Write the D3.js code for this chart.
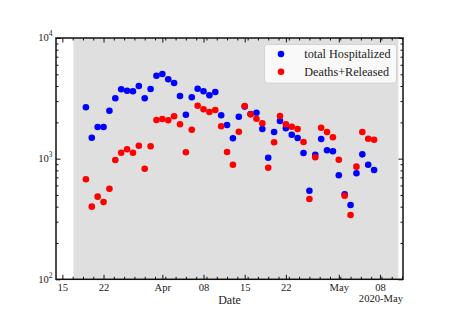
<!DOCTYPE html>
<html lang="en">
<head>
    <meta charset="UTF-8">
    <title>Hospitalized vs Deaths+Released</title>
    <script src="https://d3js.org/d3.v7.min.js"></script>
    <style>
        body { margin: 0; background: #fff; }
        text { font-family: "Liberation Serif", "DejaVu Serif", serif; fill: #222; }
    </style>
</head>
<body>
    <svg width="449" height="320"></svg>
    <script>
        // daily values, 2020-03-19 .. 2020-05-07
        const firstDay = new Date(Date.UTC(2020, 2, 19))
        const lastDay = new Date(Date.UTC(2020, 4, 8))
        const days = d3.utcDay.range(firstDay, lastDay)

        const hospitalized = [
            2665, 1492, 1829, 1829, 2497, 3164, 3756, 3658, 3616, 4001,
            3164, 3778, 4869, 5029, 4547, 4236, 3306, 2313, 3225, 3800,
            3616, 3350, 3568, 2287, 1901, 1475, 2227, 2700, 2340, 2404,
            1761, 1018, 1663, 2052, 1785, 1579, 1483, 1114, 542, 1078,
            1456, 1173, 1151, 728, 506, 413, 756, 1086, 891, 805
        ]
        const deathsReleased = [
            674, 400, 484, 437, 563, 974, 1120, 1195, 1120, 1280,
            825, 1266, 2091, 2131, 2079, 2244, 1926, 1129, 1738, 2748,
            2564, 2436, 2531, 1854, 1135, 891, 1673, 2732, 2331, 2143,
            1963, 841, 1366, 2257, 1926, 1840, 1761, 1374, 463, 1026,
            1805, 1663, 1503, 980, 493, 341, 858, 1663, 1464, 1436
        ]
        const seriesNames = ['total Hospitalized', 'Deaths+Released']
        const seriesColors = ['#0000ff', '#ff0000']

        const xTickDates = [
            new Date(Date.UTC(2020, 2, 15)), new Date(Date.UTC(2020, 2, 22)),
            new Date(Date.UTC(2020, 3, 1)), new Date(Date.UTC(2020, 3, 8)),
            new Date(Date.UTC(2020, 3, 15)), new Date(Date.UTC(2020, 3, 22)),
            new Date(Date.UTC(2020, 4, 1)), new Date(Date.UTC(2020, 4, 8))
        ]
        const xTickLabels = ['15', '22', 'Apr', '08', '15', '22', 'May', '08']
        const xOffsetLabel = '2020-May'
        const yTickValues = [100, 1000, 10000]
        const yTickExponents = ['2', '3', '4']

        // shaded period
        const spanStart = new Date(Date.UTC(2020, 2, 16, 21))
        const spanEnd = new Date(Date.UTC(2020, 4, 11, 3))

        const mLeft = 56, mRight = 403, mTop = 38, mBottom = 279.3

        const xScale = d3.scaleUtc()
                        .domain([new Date(Date.UTC(2020, 2, 13, 22)), new Date(Date.UTC(2020, 4, 11, 22))])
                        .range([mLeft, mRight])
        const yScale = d3.scaleLog()
                        .domain([100, 10000])
                        .range([mBottom, mTop])

        const svg = d3.select('svg')

        svg.append('rect')
            .attr('x', xScale(spanStart))
            .attr('y', mTop)
            .attr('width', xScale(spanEnd) - xScale(spanStart))
            .attr('height', mBottom - mTop)
            .attr('fill', '#dfdfdf')

        // minor ticks: AutoMinorLocator style, 1.75 day step from first major
        const minorStep = 1.75 * 864e5
        const minorDates = []
        const x0 = xScale.domain()[0].getTime(), x1 = xScale.domain()[1].getTime()
        for (let t = xTickDates[0].getTime() + Math.ceil((x0 - xTickDates[0].getTime()) / minorStep) * minorStep; t <= x1; t += minorStep) {
            if (!xTickDates.some(d => Math.abs(d.getTime() - t) < 1e6)) minorDates.push(new Date(t))
        }
        const yMinor = []
        ;[100, 1000].forEach(b => { for (let k = 2; k <= 9; k++) yMinor.push(b * k) })

        const bottomAxis = d3.axisBottom(xScale).tickValues(xTickDates).tickFormat((d, i) => xTickLabels[i]).tickSizeInner(-4.5).tickSizeOuter(0).tickPadding(4.5)
        const topAxis = d3.axisTop(xScale).tickValues(xTickDates).tickFormat('').tickSizeInner(-4.5).tickSizeOuter(0)
        const leftAxis = d3.axisLeft(yScale).tickValues(yTickValues).tickFormat('').tickSizeInner(-4.5).tickSizeOuter(0)
        const rightAxis = d3.axisRight(yScale).tickValues(yTickValues).tickFormat('').tickSizeInner(-4.5).tickSizeOuter(0)

        const gx = svg.append('g').attr('transform', `translate(0, ${mBottom})`).call(bottomAxis)
        svg.append('g').attr('transform', `translate(0, ${mTop})`).call(topAxis)
        svg.append('g').attr('transform', `translate(${mLeft}, 0)`).call(leftAxis)
        svg.append('g').attr('transform', `translate(${mRight}, 0)`).call(rightAxis)

        svg.append('g').attr('transform', `translate(0, ${mBottom})`)
            .call(d3.axisBottom(xScale).tickValues(minorDates).tickFormat('').tickSizeInner(-2.5).tickSizeOuter(0))
        svg.append('g').attr('transform', `translate(0, ${mTop})`)
            .call(d3.axisTop(xScale).tickValues(minorDates).tickFormat('').tickSizeInner(-2.5).tickSizeOuter(0))
        svg.append('g').attr('transform', `translate(${mLeft}, 0)`)
            .call(d3.axisLeft(yScale).tickValues(yMinor).tickFormat('').tickSizeInner(-2.5).tickSizeOuter(0))
        svg.append('g').attr('transform', `translate(${mRight}, 0)`)
            .call(d3.axisRight(yScale).tickValues(yMinor).tickFormat('').tickSizeInner(-2.5).tickSizeOuter(0))

        svg.selectAll('.domain').remove()
        svg.selectAll('.tick line').attr('stroke', '#111').attr('stroke-width', 1)
        gx.selectAll('text').attr('font-size', '10.6px').attr('font-family', '"Liberation Serif", serif').attr('fill', '#222')

        // y labels 10^n
        yTickValues.forEach((v, i) => {
            const t = svg.append('text')
                .attr('x', mLeft - 3.5)
                .attr('y', yScale(v) + 3.3)
                .attr('text-anchor', 'end')
                .attr('font-size', '10.6px')
            t.append('tspan').text('10')
            t.append('tspan').attr('dy', -5).attr('font-size', '7.5px').text(yTickExponents[i])
        })

        // points
        const series = [hospitalized, deathsReleased]
        series.forEach((vals, s) => {
            svg.append('g').selectAll('circle')
                .data(vals)
                .enter()
                .append('circle')
                .attr('cx', (d, i) => xScale(days[i]))
                .attr('cy', d => yScale(d))
                .attr('r', 3.3)
                .attr('fill', seriesColors[s])
        })

        // frame
        svg.append('rect')
            .attr('x', mLeft).attr('y', mTop)
            .attr('width', mRight - mLeft).attr('height', mBottom - mTop)
            .attr('fill', 'none').attr('stroke', '#111').attr('stroke-width', 1.5)

        // labels
        svg.append('text')
            .attr('x', (mLeft + mRight) / 2).attr('y', 304)
            .attr('text-anchor', 'middle').attr('font-size', '12px')
            .text('Date')
        svg.append('text')
            .attr('x', mRight).attr('y', 301.5)
            .attr('text-anchor', 'end').attr('font-size', '10.6px')
            .text(xOffsetLabel)

        // legend
        const legend = svg.append('g')
        legend.append('rect')
            .attr('x', 264.5).attr('y', 44.5).attr('width', 132).attr('height', 38.5)
            .attr('rx', 3)
            .attr('fill', '#f9f9f9')
            .attr('stroke', '#d4d4d4').attr('stroke-width', 1)
        seriesNames.forEach((name, i) => {
            legend.append('circle')
                .attr('cx', 281).attr('cy', 54 + i * 17.7)
                .attr('r', 3.3).attr('fill', seriesColors[i])
            legend.append('text')
                .attr('x', 304.3).attr('y', 57.8 + i * 17.7)
                .attr('font-size', '12.2px')
                .text(name)
        })
    </script>
</body>
</html>
